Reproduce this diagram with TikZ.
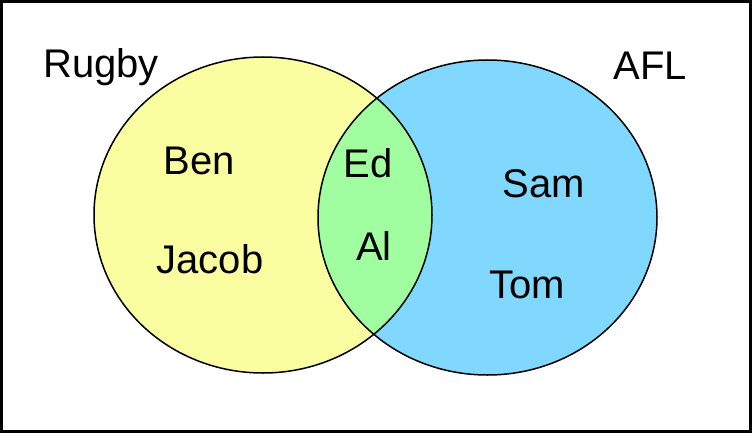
\documentclass[tikz,border=0pt]{standalone}
\usepackage{fontspec}
\setmainfont{Liberation Sans}
\usepackage{tikz}
\definecolor{vennyellow}{HTML}{FAFDA0}
\definecolor{venngreen}{HTML}{A0FDA0}
\definecolor{vennblue}{HTML}{80D8FE}

\begin{document}
\begin{tikzpicture}[
      x=1pt,y=-1pt,
      font=\fontsize{40}{40}\selectfont,
      setline/.style={draw=black,line width=1.5pt},
      member/.style={anchor=base,inner sep=0pt},
      frame/.style={draw=black,line width=2.6pt}
    ]
    \useasboundingbox (0,0) rectangle (752,433);
    \draw[frame] (1.3,1.3) rectangle (750.7,431.7);

    \coordinate (rugby set) at (263,215);
    \coordinate (afl set) at (487.5,217.5);

    \fill[vennyellow] (rugby set) ellipse [x radius=169,y radius=158];
    \fill[vennblue] (afl set) ellipse [x radius=169.5,y radius=157.5];
    \begin{scope}
      \clip (rugby set) ellipse [x radius=169,y radius=158];
      \fill[venngreen] (afl set) ellipse [x radius=169.5,y radius=157.5];
    \end{scope}
    \draw[setline] (rugby set) ellipse [x radius=169,y radius=158];
    \draw[setline] (afl set) ellipse [x radius=169.5,y radius=157.5];

    \node[member] (rugby) at (101,78) {Rugby};
    \node[member] (afl) at (650,80) {AFL};
    \node[member] (ben) at (199,175) {Ben};
    \node[member] (jacob) at (210,273) {Jacob};
    \node[member] (ed) at (368,177) {Ed};
    \node[member] (al) at (374,260) {Al};
    \node[member] (sam) at (544,197) {Sam};
    \node[member] (tom) at (527,298) {Tom};
  \end{tikzpicture}
\end{document}
